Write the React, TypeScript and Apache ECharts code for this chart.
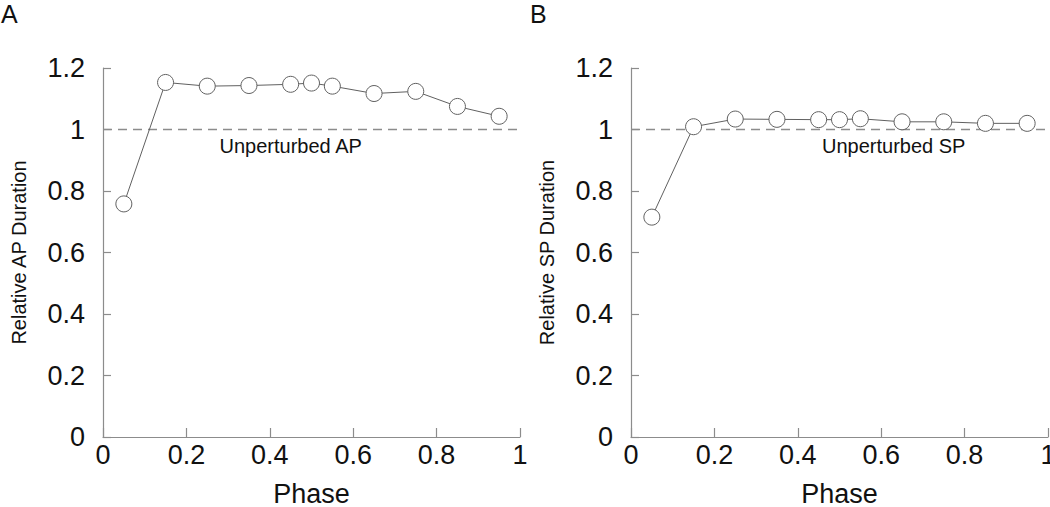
import React, { useEffect, useRef } from "react";
import * as echarts from "echarts";

const phase = [0.05, 0.15, 0.25, 0.35, 0.45, 0.5, 0.55, 0.65, 0.75, 0.85, 0.95];
const apDuration = [0.758, 1.153, 1.141, 1.143, 1.147, 1.151, 1.141, 1.117, 1.124, 1.075, 1.043];
const spDuration = [0.715, 1.009, 1.034, 1.033, 1.032, 1.032, 1.035, 1.025, 1.025, 1.02, 1.02];
const panelLetters = ["A", "B"];
const yTitles = ["Relative AP Duration", "Relative SP Duration"];
const refLabels = ["Unperturbed AP", "Unperturbed SP"];
const refLabelPhase = [0.45, 0.63];
const xTitle = "Phase";

const FONT = "Liberation Sans, Arial, Helvetica, sans-serif";
const AXIS_GREY = "#8c8c8c";
const LINE_GREY = "#606060";

export default function App() {
  const ref = useRef<HTMLDivElement>(null);
  useEffect(() => {
    if (!ref.current) return;
    const chart = echarts.init(ref.current, null, { renderer: "svg" });
    const grids = [
      { left: 103, top: 68, width: 417, height: 369, containLabel: false, outerBoundsMode: "none" },
      { left: 631, top: 68, width: 417, height: 369, containLabel: false, outerBoundsMode: "none" },
    ];
    const xAxes = grids.map((_, i) => ({
      type: "value",
      gridIndex: i,
      min: 0,
      max: 1,
      interval: 0.2,
      name: xTitle,
      nameLocation: "middle",
      nameGap: 43,
      nameTextStyle: { fontFamily: FONT, fontSize: 27, color: "#111" },
      axisLine: { show: true, lineStyle: { color: AXIS_GREY, width: 1.2 } },
      axisTick: { show: true, inside: true, length: 9, lineStyle: { color: AXIS_GREY, width: 1.2 } },
      axisLabel: { fontFamily: FONT, fontSize: 27, color: "#111", margin: 4 },
      splitLine: { show: false },
    }));
    const yAxes = grids.map((_, i) => ({
      type: "value",
      gridIndex: i,
      min: 0,
      max: 1.2,
      interval: 0.2,
      name: yTitles[i],
      nameLocation: "middle",
      nameGap: 74,
      nameTextStyle: { fontFamily: FONT, fontSize: 20, color: "#111" },
      axisLine: { show: true, lineStyle: { color: AXIS_GREY, width: 1.2 } },
      axisTick: { show: true, inside: true, length: 8, lineStyle: { color: AXIS_GREY, width: 1.2 } },
      axisLabel: { fontFamily: FONT, fontSize: 27, color: "#111", margin: 18 },
      splitLine: { show: false },
    }));
    const datasets = [apDuration, spDuration];
    const series = datasets.map((vals, i) => ({
      type: "line",
      xAxisIndex: i,
      yAxisIndex: i,
      data: phase.map((p, j) => [p, vals[j]]),
      symbol: "circle",
      symbolSize: 16,
      showSymbol: true,
      lineStyle: { color: LINE_GREY, width: 1 },
      itemStyle: { color: "#fff", borderColor: LINE_GREY, borderWidth: 1 },
      z: 5,
      markLine: {
        silent: true,
        symbol: "none",
        label: { show: false },
        lineStyle: { color: AXIS_GREY, type: [9, 6], width: 1.3 },
        data: [{ yAxis: 1 }],
        z: 1,
      },
      markPoint: {
        silent: true,
        symbol: "circle",
        symbolSize: 0,
        data: [{ coord: [refLabelPhase[i], 1] }],
        label: {
          show: true,
          position: "bottom",
          distance: 6,
          formatter: refLabels[i],
          fontFamily: FONT,
          fontSize: 20,
          color: "#111",
        },
      },
    }));
    chart.setOption({
      animation: false,
      backgroundColor: "#fff",
      grid: grids,
      xAxis: xAxes,
      yAxis: yAxes,
      series,
      graphic: panelLetters.map((t, i) => ({
        type: "text",
        left: i === 0 ? 1 : 530,
        top: 1,
        style: { text: t, fontFamily: FONT, fontSize: 25, fill: "#111" },
      })),
    });
    return () => chart.dispose();
  }, []);
  return (
    <div
      ref={ref}
      style={{ position: "fixed", left: 0, top: 0, width: 1050, height: 507 }}
    />
  );
}
